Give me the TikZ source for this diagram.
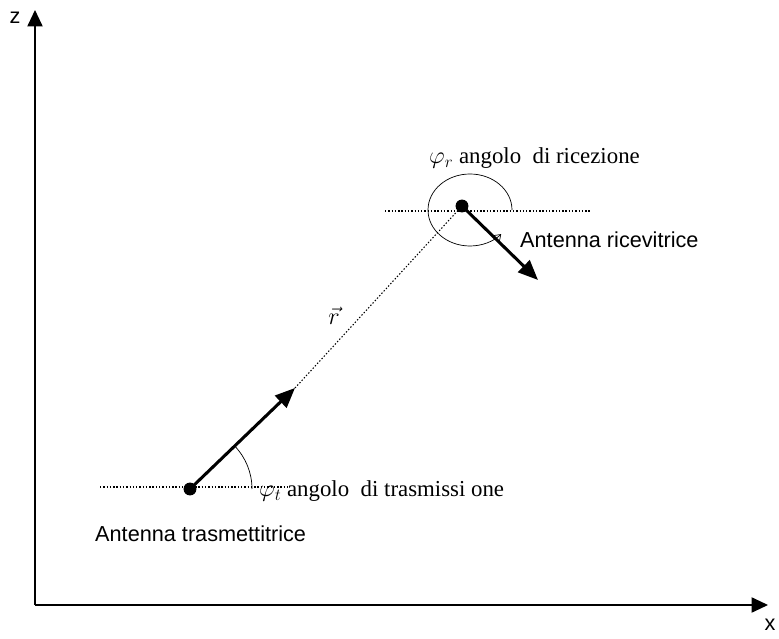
\documentclass[tikz,border=0pt]{standalone}
\usepackage{fontspec}
\setmainfont{Liberation Serif}
\setsansfont{Liberation Sans}
\usetikzlibrary{arrows.meta}
\begin{document}
\begin{tikzpicture}[x=0.03cm,y=0.03cm,
    axis/.style={line width=1.1pt,-{Triangle[length=14pt,width=13pt]}},
    antenna/.style={line width=2.6pt,-{Triangle[length=17pt,width=14pt]}},
    feed/.style={circle,fill,inner sep=0pt,minimum size=11pt},
    ref/.style={dash pattern=on 1.2pt off 1.6pt,line width=0.9pt},
    lbl/.style={font=\sffamily\fontsize{18.5}{22}\selectfont,anchor=west,inner sep=0pt},
    ang/.style={font=\fontsize{19.5}{23}\selectfont,anchor=west,inner sep=0pt}]
  \useasboundingbox (0,0) rectangle (779,638);
  % assi
  \coordinate (O) at (35,33);
  \coordinate (zend) at (35,628);
  \coordinate (xend) at (768,33);
  \draw[axis] (O) -- (zend);
  \draw[axis] (O) -- (xend);
  \node[lbl,anchor=center] (zlab) at (15,620) {z};
  \node[lbl,anchor=center] (xlab) at (770,13) {x};
  % antenna trasmettitrice
  \node[feed] (T) at (190,149) {};
  \coordinate (Ttip) at (295,250);
  \draw[ref] (100,151) -- (290,151);
  \draw[antenna] (T.center) -- (Ttip);
  \draw[line width=0.6pt] (T.center) ++(62,0) arc[start angle=0,end angle=44,radius=62];
  \node[ang] (phit) at (259,147) {$\varphi_t$ angolo\ \ di trasmissi one};
  \node[lbl] (Tlab) at (95,104) {Antenna trasmettitrice};
  % antenna ricevitrice
  \node[feed] (R) at (462,432) {};
  \coordinate (Rtip) at (538,358);
  \draw[ref] (385,427) -- (590,427);
  \draw[ref] (Ttip) -- (R.center);
  \draw[antenna] (R.center) -- (Rtip);
  \draw[line width=0.6pt,-{Straight Barb[length=5pt,width=7pt]}] (470,428) ++(42,0)
    arc[start angle=0,end angle=318,x radius=42,y radius=36];
  \node[ang] (phir) at (429,480) {$\varphi_r$ angolo\ \ di ricezione};
  \node[lbl] (Rlab) at (520,398) {Antenna ricevitrice};
  % vettore r
  \node[ang,anchor=center] (rvec) at (334,322) {$\vec{r}$};
\end{tikzpicture}
\end{document}
